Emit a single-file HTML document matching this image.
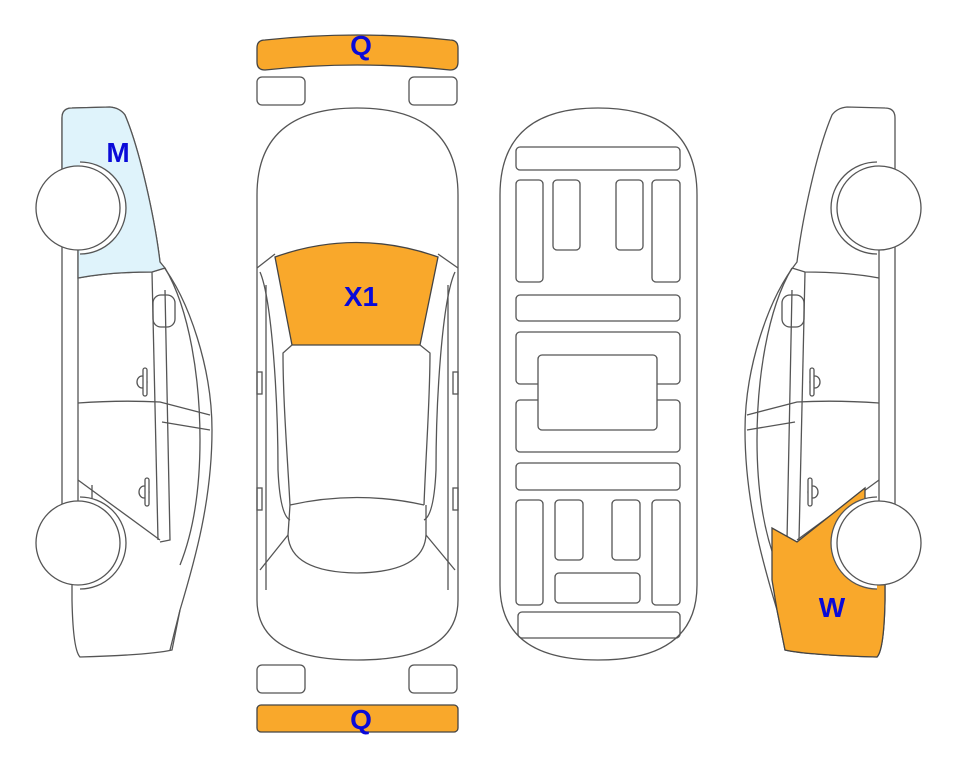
<!DOCTYPE html>
<html><head><meta charset="utf-8"><style>
html,body{margin:0;padding:0;background:#fff;width:963px;height:768px;overflow:hidden}
svg{display:block}
text{font-family:"Liberation Sans",Arial,sans-serif;font-weight:bold;fill:#0a0ad8;font-size:28px;text-anchor:middle}
</style></head><body>
<svg width="963" height="768" viewBox="0 0 963 768" xmlns="http://www.w3.org/2000/svg">
<g fill="none" stroke="#555" stroke-width="1.3">

<!-- LEFT CAR -->
<g id="side">
<path d="M62,118 Q62,108 72,108 L110,107 Q120,108 125,115 C140,150 155,220 160,262 C190,300 212,370 212,430 C212,500 195,560 180,610 L172,650 Q150,655 80,657 Q73,650 72,600 L72,585" fill="#fff"/>
<line x1="62" y1="118" x2="62" y2="172"/>
<rect x="62" y="246" width="16" height="259" fill="#fff"/>
<path d="M78,278 Q110,272 152,272 L165,268"/>
<path d="M152,272 L158,540"/>
<path d="M165,290 L170,540 L160,542"/>
<path d="M165,268 C190,310 200,380 200,440 C200,500 190,540 180,565"/>
<path d="M78,403 Q120,400 160,402 L210,415 M162,422 L210,430"/>
<path d="M78,480 L160,540"/>
<path d="M92,505 L92,485"/>
<path d="M170,650 L180,610"/>
<rect x="153" y="295" width="22" height="32" rx="8"/>
<ellipse cx="142" cy="382" rx="5" ry="6"/><rect x="143" y="368" width="4" height="28" rx="2" fill="#fff"/>
<ellipse cx="144" cy="492" rx="5" ry="6"/><rect x="145" y="478" width="4" height="28" rx="2" fill="#fff"/>
</g>

<!-- M blue -->
<path d="M62,118 Q62,108 72,108 L110,107 Q120,108 125,115 C140,150 155,220 160,262 L165,268 L152,272 Q110,272 78,278 L78,246 L62,246 Z" fill="#dff3fb"/>
<path d="M80,162 A46,46 0 0 1 80,254" fill="#fff"/>
<circle cx="78" cy="208" r="42" fill="#fff"/>
<path d="M80,497 A46,46 0 0 1 80,589" fill="#fff"/>
<circle cx="78" cy="543" r="42" fill="#fff"/>

<!-- RIGHT CAR mirrored -->
<g transform="translate(957,0) scale(-1,1)">
<path d="M62,118 Q62,108 72,108 L110,107 Q120,108 125,115 C140,150 155,220 160,262 C190,300 212,370 212,430 C212,500 195,560 180,610 L172,650 Q150,655 80,657 Q73,650 72,600 L72,585" fill="#fff"/>
<line x1="62" y1="118" x2="62" y2="172"/>
<rect x="62" y="246" width="16" height="259" fill="#fff"/>
<path d="M78,278 Q110,272 152,272 L165,268"/>
<path d="M152,272 L158,540"/>
<path d="M165,290 L170,540 L160,542"/>
<path d="M165,268 C190,310 200,380 200,440 C200,500 190,540 180,565"/>
<path d="M78,403 Q120,400 160,402 L210,415 M162,422 L210,430"/>
<path d="M78,480 L160,540"/>
<rect x="153" y="295" width="22" height="32" rx="8"/>
<ellipse cx="142" cy="382" rx="5" ry="6"/><rect x="143" y="368" width="4" height="28" rx="2" fill="#fff"/>
<ellipse cx="144" cy="492" rx="5" ry="6"/><rect x="145" y="478" width="4" height="28" rx="2" fill="#fff"/>
<!-- W orange -->
<path d="M92,488 L92,520 L80,530 L72,585 L72,600 Q73,650 80,657 Q150,655 172,650 L180,610 L185,580 L185,528 L160,542 Z" fill="#f9a82b" stroke="#444"/>
<path d="M80,162 A46,46 0 0 1 80,254" fill="#fff"/>
<circle cx="78" cy="208" r="42" fill="#fff"/>
<path d="M80,497 A46,46 0 0 1 80,589" fill="#fff"/>
<circle cx="78" cy="543" r="42" fill="#fff"/>
</g>

<!-- TOP VIEW CAR -->
<path d="M257,48 Q257,40 265,40 Q357,30 450,40 Q458,40 458,48 L458,62 Q458,70 450,70 Q357,60 265,70 Q257,70 257,62 Z" fill="#f9a82b" stroke="#444"/>
<rect x="257" y="77" width="48" height="28" rx="5"/>
<rect x="409" y="77" width="48" height="28" rx="5"/>
<path d="M257,600 L257,195 Q257,108 357,108 Q458,108 458,195 L458,600 Q458,660 357,660 Q257,660 257,600 Z"/>
<path d="M275,257 Q356,228 438,257 L420,345 L292,345 Z" fill="#f9a82b" stroke="#444"/>
<path d="M257,268 L275,254 M458,268 L438,254"/>
<path d="M292,345 L283,353 C283,400 287,450 290,505 M420,345 L430,353 C430,400 426,450 424,505"/>
<path d="M260,272 C272,300 278,400 278,470 Q280,515 290,520 M455,272 C442,300 436,400 436,470 Q434,515 424,520"/>
<path d="M266,285 L266,590 M448,285 L448,590"/>
<path d="M290,505 Q357,490 424,505"/>
<path d="M288,535 Q290,572 357,573 Q424,572 426,535 L426,505 M288,535 L290,505"/>
<path d="M288,535 L260,570 M426,535 L455,570"/>
<rect x="257" y="372" width="5" height="22"/><rect x="257" y="488" width="5" height="22"/>
<rect x="453" y="372" width="5" height="22"/><rect x="453" y="488" width="5" height="22"/>
<rect x="257" y="665" width="48" height="28" rx="5"/>
<rect x="409" y="665" width="48" height="28" rx="5"/>
<rect x="257" y="705" width="201" height="27" rx="4" fill="#f9a82b" stroke="#444"/>

<!-- UNDERBODY -->
<path d="M500,195 Q500,108 598,108 Q697,108 697,195 L697,585 Q697,660 598,660 Q500,660 500,585 Z"/>
<rect x="516" y="147" width="164" height="23" rx="4"/>
<rect x="516" y="180" width="27" height="102" rx="4"/>
<rect x="553" y="180" width="27" height="70" rx="4"/>
<rect x="616" y="180" width="27" height="70" rx="4"/>
<rect x="652" y="180" width="28" height="102" rx="4"/>
<rect x="516" y="295" width="164" height="26" rx="4"/>
<rect x="516" y="332" width="164" height="52" rx="4"/>
<rect x="516" y="400" width="164" height="52" rx="4"/>
<rect x="538" y="355" width="119" height="75" rx="4" fill="#fff"/>
<rect x="516" y="463" width="164" height="27" rx="4"/>
<rect x="516" y="500" width="27" height="105" rx="4"/>
<rect x="555" y="500" width="28" height="60" rx="4"/>
<rect x="612" y="500" width="28" height="60" rx="4"/>
<rect x="652" y="500" width="28" height="105" rx="4"/>
<rect x="555" y="573" width="85" height="30" rx="4"/>
<rect x="518" y="612" width="162" height="26" rx="4"/>
</g>

<text x="118" y="162">M</text>
<text x="361" y="55">Q</text>
<text x="361" y="306">X1</text>
<text x="832" y="617">W</text>
<text x="361" y="729">Q</text>
</svg>
</body></html>
